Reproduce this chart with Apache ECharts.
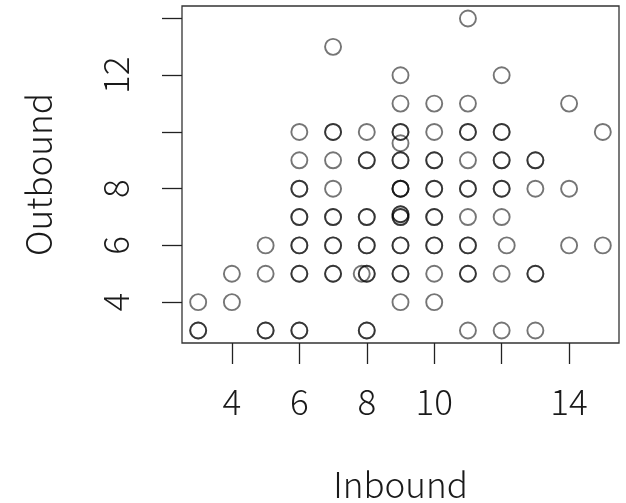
<!DOCTYPE html>
<html>
<head>
<meta charset="utf-8">
<script src="https://cdn.jsdelivr.net/npm/echarts@6/dist/echarts.min.js"></script>
<style>
  html, body { margin: 0; padding: 0; background: #fff; }
  #main { width: 626px; height: 503px; }
</style>
</head>
<body>
<div id="main"></div>
<script>
// one entry per observation, grouped by inbound column
var inbound = [
  3, 3, 3,
  4, 4,
  5, 5, 5, 5,
  6, 6, 6, 6, 6, 6, 6, 6, 6, 6, 6, 6,
  7, 7, 7, 7, 7, 7, 7, 7, 7, 7, 7,
  7.85,
  8, 8, 8, 8, 8, 8, 8, 8, 8, 8, 8,
  9, 9, 9, 9, 9, 9, 9, 9, 9, 9, 9, 9, 9, 9, 9, 9, 9, 9, 9,
  10, 10, 10, 10, 10, 10, 10, 10, 10, 10, 10, 10,
  11, 11, 11, 11, 11, 11, 11, 11, 11, 11, 11, 11, 11,
  12, 12, 12, 12, 12, 12, 12, 12, 12, 12,
  12.15,
  13, 13, 13, 13, 13, 13,
  14, 14, 14,
  15, 15
];
var outbound = [
  4, 3, 3,
  5, 4,
  6, 5, 3, 3,
  10, 9, 8, 8, 7, 7, 6, 6, 5, 5, 3, 3,
  13, 10, 10, 9, 8, 7, 7, 6, 6, 5, 5,
  5,
  10, 9, 9, 7, 7, 6, 6, 5, 5, 3, 3,
  12, 11, 10, 10, 9.6, 9, 9, 8, 8, 8, 7, 7, 7.1, 7.1, 6, 6, 5, 5, 4,
  11, 10, 9, 9, 8, 8, 7, 7, 6, 6, 5, 4,
  14, 11, 10, 10, 9, 8, 8, 7, 6, 6, 5, 5, 3,
  12, 10, 10, 9, 9, 8, 8, 7, 5, 3,
  6,
  9, 9, 8, 5, 5, 3,
  11, 8, 6,
  10, 6
];
var xTicks = [4, 6, 8, 10, 12, 14];
var xLabels = [4, 6, 8, 10, 14];
var yTicks = [4, 6, 8, 10, 12, 14];
var yLabels = [4, 6, 8, 12];

var points = inbound.map(function (x, i) { return [x, outbound[i]]; });

var chart = echarts.init(document.getElementById('main'));
var font = '"Noto Sans CJK JP", "Noto Sans", sans-serif';
var textStyle = { fontFamily: font, fontSize: 35, fontWeight: 300, color: '#1a1a1a' };

chart.setOption({
  backgroundColor: '#ffffff',
  animation: false,
  grid: {
    left: 182, right: 7, top: 6, bottom: 160,
    show: true, borderColor: '#333', borderWidth: 1.3,
    outerBoundsMode: 'none'
  },
  xAxis: {
    type: 'value',
    min: 2.52, max: 15.48,
    name: 'Inbound',
    nameLocation: 'middle',
    nameGap: 124,
    nameTextStyle: textStyle,
    axisLine: { show: false },
    splitLine: { show: false },
    axisTick: { show: true, inside: false, length: 21, customValues: xTicks,
      lineStyle: { color: '#222', width: 1.3 } },
    axisLabel: Object.assign({ customValues: xLabels, margin: 41 }, textStyle)
  },
  yAxis: {
    type: 'value',
    min: 2.56, max: 14.44,
    name: 'Outbound',
    nameLocation: 'middle',
    nameGap: 126,
    nameTextStyle: textStyle,
    axisLine: { show: false },
    splitLine: { show: false },
    axisTick: { show: true, inside: false, length: 20, customValues: yTicks,
      lineStyle: { color: '#222', width: 1.3 } },
    axisLabel: Object.assign({ customValues: yLabels, margin: 49, rotate: 90 }, textStyle)
  },
  series: [{
    type: 'scatter',
    data: points,
    symbol: 'circle',
    symbolSize: 16,
    itemStyle: {
      color: 'rgba(0,0,0,0)',
      borderColor: 'rgba(0,0,0,0.68)',
      borderWidth: 1.9
    },
    emphasis: { disabled: true }
  }]
});
</script>
</body>
</html>
